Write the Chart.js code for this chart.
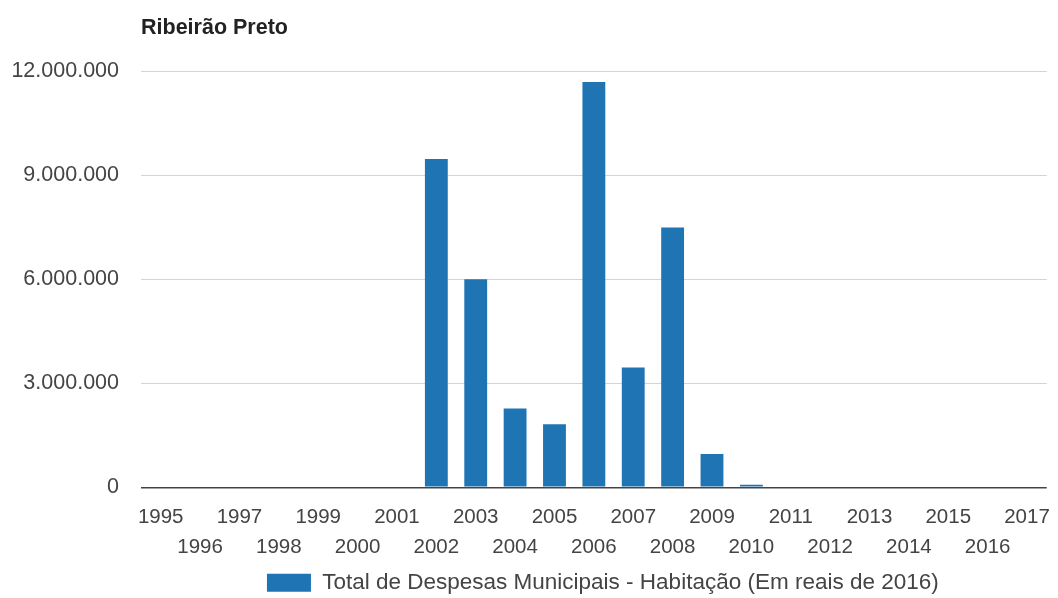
<!DOCTYPE html>
<html>
<head>
<meta charset="utf-8">
<script src="https://cdn.jsdelivr.net/npm/chart.js@4/dist/chart.umd.min.js"></script>
<style>
  html, body { margin: 0; padding: 0; background: #fff; }
  #wrap { width: 1058px; height: 598px; }
</style>
</head>
<body>
<div id="wrap"><canvas id="chart" width="1058" height="598"></canvas></div>
<script>
"use strict";
// data
var chartTitle = 'Ribeirão Preto';
var seriesName = 'Total de Despesas Municipais - Habitação (Em reais de 2016)';
var years = ['1995','1996','1997','1998','1999','2000','2001','2002','2003','2004','2005','2006',
             '2007','2008','2009','2010','2011','2012','2013','2014','2015','2016','2017'];
var despesas = [0, 0, 0, 0, 0, 0, 0,
                9460000, 6000000, 2270000, 1820000, 11680000, 3450000, 7490000, 960000, 70000,
                0, 0, 0, 0, 0, 0, 0];
var yTicks = [0, 3000000, 6000000, 9000000, 12000000];

var FONT = '"Liberation Sans", Arial, sans-serif';

// title drawn over the plot's left edge, legend centred a bit right of the plot area
var titleAndLegend = {
    id: 'titleAndLegend',
    afterLayout: (chart) => {
        var lg = chart.legend, ca = chart.chartArea;
        if (lg) {
            lg.left = ca.left + 18;
            lg.right = ca.right;
            lg.width = lg.right - lg.left;
        }
    },
    afterDraw: (chart) => {
        var ctx = chart.ctx;
        ctx.save();
        ctx.font = 'bold 21.5px ' + FONT;
        ctx.fillStyle = '#222';
        ctx.textBaseline = 'middle';
        ctx.fillText(chartTitle, chart.chartArea.left, 28);
        ctx.restore();
    }
};

function fmt(v) {
    return Number(v).toLocaleString('de-DE');
}

new Chart(document.getElementById('chart'), {
    type: 'bar',
    data: {
        labels: years,
        datasets: [{
            label: seriesName,
            data: despesas,
            backgroundColor: '#1f74b4',
            borderWidth: 0,
            barPercentage: 0.58,
            categoryPercentage: 1.0
        }]
    },
    options: {
        responsive: false,
        animation: false,
        layout: { padding: { top: 71, right: 8, left: 0, bottom: -6 } },
        plugins: {
            title: { display: false },
            tooltip: { enabled: false },
            legend: {
                position: 'bottom',
                labels: {
                    boxWidth: 44,
                    boxHeight: 18,
                    color: '#444',
                    font: { family: FONT, size: 22.5 },
                    padding: 2
                }
            }
        },
        scales: {
            x: {
                grid: { display: false },
                border: { display: false },
                ticks: {
                    autoSkip: false,
                    maxRotation: 0,
                    minRotation: 0,
                    color: '#444',
                    padding: 8,
                    font: { family: FONT, size: 20.5, lineHeight: 1.42 },
                    callback: function (v, i) {
                        var l = this.getLabelForValue(v);
                        return i % 2 ? ['', l] : [l, ''];
                    }
                }
            },
            y: {
                min: 0,
                max: 12000000,
                afterFit: (s) => { s.width = 141; },
                afterBuildTicks: (s) => { s.ticks = yTicks.map(v => ({ value: v })); },
                border: { display: false },
                grid: {
                    drawTicks: false,
                    color: (c) => c.tick && c.tick.value === 0 ? '#444' : '#d4d4d4',
                    lineWidth: (c) => c.tick && c.tick.value === 0 ? 1.5 : 1
                },
                ticks: {
                    color: '#444',
                    padding: 22,
                    font: { family: FONT, size: 21.5 },
                    callback: (v) => fmt(v)
                }
            }
        }
    },
    plugins: [titleAndLegend]
});
</script>
</body>
</html>
